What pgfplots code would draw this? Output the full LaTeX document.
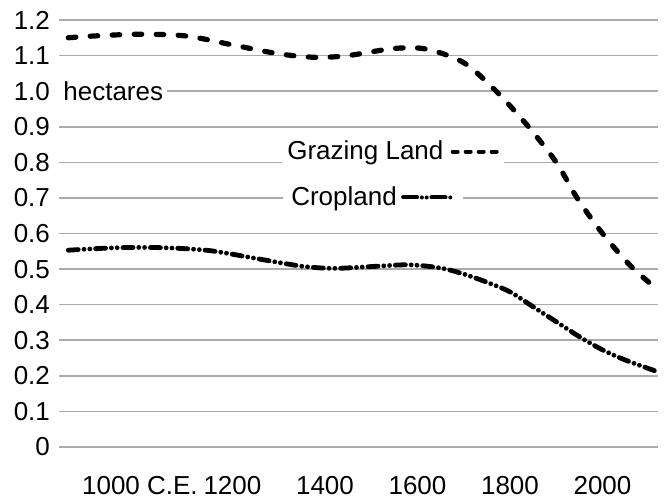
\documentclass[border=0pt]{standalone}
\usepackage{pgfplots}
\pgfplotsset{compat=1.18}
\usepackage{pgfplotstable}
\usepackage{fontspec}
\setmainfont{Liberation Sans}
\usetikzlibrary{calc}

% hectares per person
\pgfplotstableread{
year val
845  1.150
900  1.155
1000 1.160
1100 1.155
1200 1.130
1300 1.105
1380 1.095
1450 1.100
1550 1.120
1620 1.118
1700 1.080
1770 1.000
1840 0.900
1900 0.800
1945 0.700
2000 0.600
2060 0.510
2112 0.450
}\grazing

\pgfplotstableread{
year val
845  0.553
950  0.560
1050 0.560
1150 0.552
1250 0.530
1350 0.508
1420 0.502
1500 0.507
1580 0.512
1650 0.503
1700 0.486
1750 0.463
1800 0.436
1850 0.394
1900 0.352
1950 0.310
2000 0.273
2050 0.244
2118 0.212
}\cropland

\tikzset{
  grazestyle/.style={line width=2.6pt, line cap=round, dash pattern=on 3.8pt off 7.2pt},
  cropstyle/.style={line width=2.4pt, line cap=round,
    dash pattern=on 5pt off 2.9pt on 0pt off 2.9pt on 0pt off 2.9pt},
}

\begin{document}
\begin{tikzpicture}[font=\fontsize{13}{15}\selectfont]
\begin{axis}[
  scale only axis, width=299.5pt, height=213.5pt,
  xmin=825, xmax=2120, ymin=0, ymax=1.2,
  axis line style={draw=none}, tick style={draw=none},
  ymajorgrids, major grid style={draw=black!33, line width=0.8pt},
  ytick={0,0.1,0.2,0.3,0.4,0.5,0.6,0.7,0.8,0.9,1.0,1.1,1.2},
  yticklabels={0,0.1,0.2,0.3,0.4,0.5,0.6,0.7,0.8,0.9,1.0,1.1,1.2},
  xtick={1000,1200,1400,1600,1800,2000},
  xticklabels={1000 C.E., 1200, 1400, 1600, 1800, 2000},
  xticklabel style={yshift=-11pt},
  yticklabel style={xshift=-1pt},
  clip=false,
]
\addplot[black, smooth, grazestyle] table[x=year, y=val] {\grazing};
\addplot[black, smooth, cropstyle] table[x=year, y=val] {\cropland};

\node[fill=white, anchor=west, inner xsep=2pt, inner ysep=1pt] at (axis cs:825,1.0) {hectares};
\node[fill=white, anchor=west, inner xsep=2.5pt, inner ysep=1pt] at (axis cs:1307,0.826)
  {Grazing Land \tikz[baseline=-0.6ex]\draw[line width=2pt, line cap=round, dash pattern=on 2.5pt off 4pt] (1pt,0) -- (23pt,0);};
\node[fill=white, anchor=west, inner xsep=4pt, inner ysep=1pt] at (axis cs:1309,0.697)
  {Cropland\,\tikz[baseline=-0.6ex]\draw[line width=2pt, line cap=round, dash pattern=on 7pt off 2.4pt on 0pt off 2.4pt on 0pt off 2.4pt] (1pt,0) -- (26pt,0);};
\end{axis}
\path ($(current axis.south west)+(-29.5pt,-26.5pt)$) rectangle ($(current axis.north east)+(6pt,10pt)$);
\end{tikzpicture}
\end{document}
